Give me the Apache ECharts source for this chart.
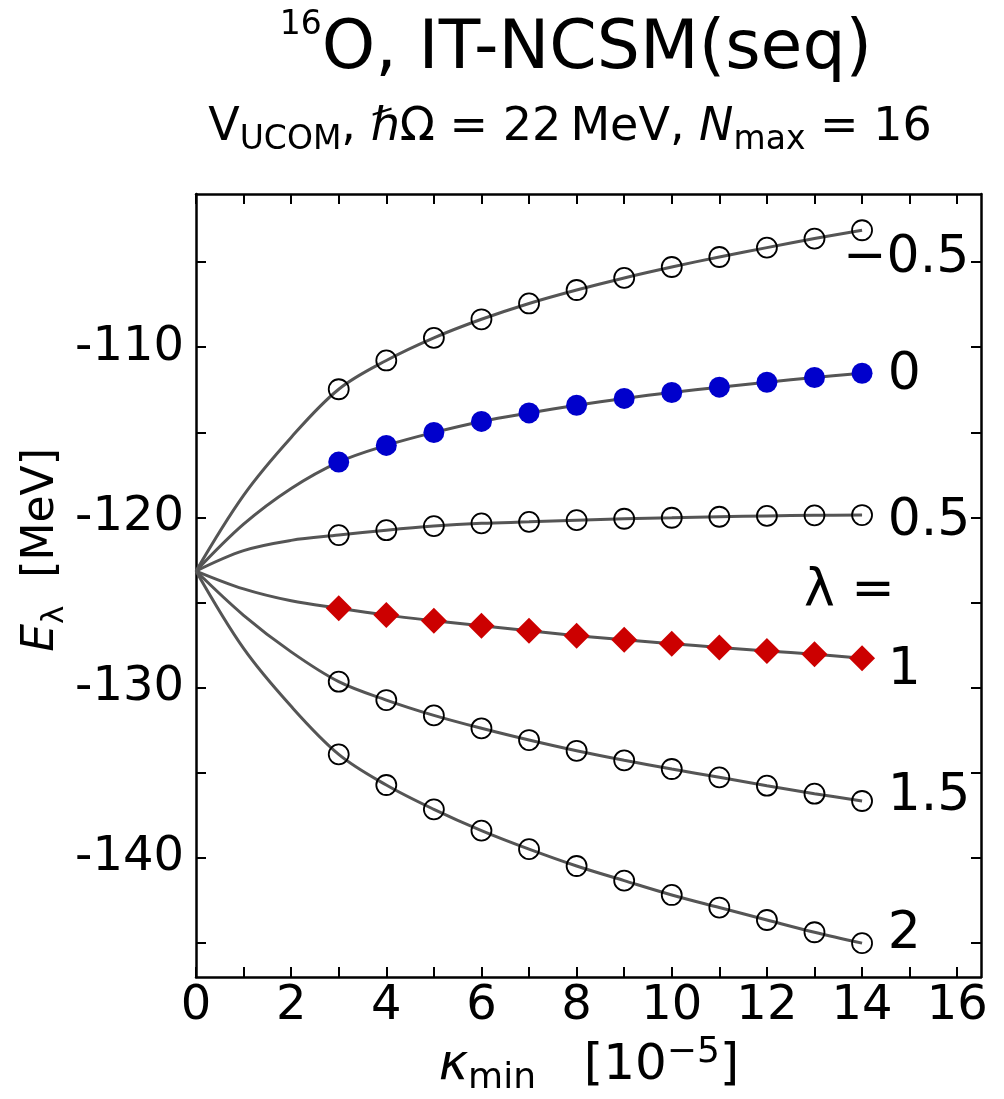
<!DOCTYPE html>
<html>
<head>
<meta charset="utf-8">
<script src="https://cdn.jsdelivr.net/npm/echarts@6/dist/echarts.min.js"></script>
<style>
  html, body { margin: 0; padding: 0; background: #ffffff; }
  #chart { width: 1004px; height: 1099px; }
</style>
</head>
<body>
<div id="chart"></div>
<script>
// kappa_min values (units of 1e-5) of the computed points
const kappa = [3, 4, 5, 6, 7, 8, 9, 10, 11, 12, 13, 14];

// E_lambda [MeV] for each lambda
const eLamM05 = [-112.47, -110.78, -109.45, -108.36, -107.43, -106.64, -105.93, -105.29, -104.70, -104.15, -103.62, -103.13];
const eLam0   = [-116.75, -115.77, -115.01, -114.36, -113.86, -113.41, -113.01, -112.66, -112.35, -112.06, -111.78, -111.53];
const eLam05  = [-121.04, -120.75, -120.51, -120.35, -120.26, -120.16, -120.08, -120.02, -119.96, -119.91, -119.88, -119.86];
const eLam1   = [-125.34, -125.74, -126.07, -126.37, -126.66, -126.95, -127.19, -127.42, -127.64, -127.85, -128.04, -128.28];
const eLam15  = [-129.65, -130.73, -131.63, -132.39, -133.08, -133.71, -134.27, -134.78, -135.27, -135.76, -136.23, -136.66];
const eLam2   = [-133.92, -135.72, -137.15, -138.40, -139.49, -140.48, -141.34, -142.18, -142.92, -143.65, -144.37, -145.01];

// extrapolation curves toward kappa_min -> 0
const fitKappa = [0, 1, 2];
const fitM05 = [-123.15, -118.7, -115.3];
const fit0   = [-123.15, -120.4, -118.3];
const fit05  = [-123.15, -121.95, -121.35];
const fit1   = [-123.15, -124.2, -124.9];
const fit15  = [-123.15, -125.75, -127.9];
const fit2   = [-123.15, -127.7, -131.1];

// lambda labels at the right of the curves
const labelText   = ['\u22120.5', '0', '0.5', '\u03bb =', '1', '1.5', '2'];
const labelKappa  = [13.6, 14.54, 14.54, 12.78, 14.54, 14.54, 14.54];
const labelEnergy = [-104.77, -111.64, -120.22, -124.33, -128.97, -136.37, -144.53];

// axis ticks
const xTicks  = [0, 1, 2, 3, 4, 5, 6, 7, 8, 9, 10, 11, 12, 13, 14, 15, 16];
const xLabels = [0, 2, 4, 6, 8, 10, 12, 14, 16];
const yTicks  = [-145, -140, -135, -130, -125, -120, -115, -110, -105];
const yLabels = [-140, -130, -120, -110];

const FONT = 'DejaVu Sans';
const pairs = (xs, ys) => xs.map((x, i) => [x, ys[i]]);
const curve = (head, pts) => pairs(fitKappa.concat(kappa), head.concat(pts));

const axisLineStyle = { color: '#000', width: 2.5 };
const tickStyle = { show: true, inside: true, length: 10, lineStyle: { color: '#000', width: 2 } };

function xAxis(pos, showLabels) {
  return {
    type: 'value', position: pos, min: 0, max: 16.5,
    axisLine: { show: true, onZero: false, lineStyle: axisLineStyle },
    axisTick: Object.assign({ customValues: xTicks }, tickStyle),
    axisLabel: { show: showLabels, customValues: xLabels, fontSize: 48, fontFamily: FONT, color: '#000', margin: 6 },
    splitLine: { show: false }
  };
}
function yAxis(pos, showLabels) {
  return {
    type: 'value', position: pos, min: -147, max: -101,
    axisLine: { show: true, onZero: false, lineStyle: axisLineStyle },
    axisTick: Object.assign({ customValues: yTicks }, tickStyle),
    axisLabel: { show: showLabels, customValues: yLabels, fontSize: 48, fontFamily: FONT, color: '#000', margin: 12 },
    splitLine: { show: false }
  };
}

function fitLine(head, pts) {
  return {
    type: 'line', data: curve(head, pts), smooth: 0.35, showSymbol: false, silent: true,
    lineStyle: { color: '#555555', width: 3 }, z: 2
  };
}
function openPoints(pts) {
  return {
    type: 'scatter', data: pairs(kappa, pts), symbol: 'circle', symbolSize: 20, silent: true,
    itemStyle: { color: 'rgba(0,0,0,0)', borderColor: '#000', borderWidth: 1.8, opacity: 1 }, z: 3
  };
}

const chart = echarts.init(document.getElementById('chart'), null, { renderer: 'canvas' });

chart.setOption({
  backgroundColor: '#ffffff',
  animation: false,
  grid: { left: 196, right: 23, top: 194, bottom: 122, containLabel: false },
  xAxis: [xAxis('bottom', true), xAxis('top', false)],
  yAxis: [yAxis('left', true), yAxis('right', false)],
  series: [
    fitLine(fitM05, eLamM05),
    fitLine(fit0, eLam0),
    fitLine(fit05, eLam05),
    fitLine(fit1, eLam1),
    fitLine(fit15, eLam15),
    fitLine(fit2, eLam2),
    openPoints(eLamM05),
    {
      type: 'scatter', data: pairs(kappa, eLam0), symbol: 'circle', symbolSize: 21, silent: true,
      itemStyle: { color: '#0000cc', opacity: 1 }, z: 3
    },
    openPoints(eLam05),
    {
      type: 'scatter', data: pairs(kappa, eLam1), symbol: 'diamond', symbolSize: 26, silent: true,
      itemStyle: { color: '#cc0000', opacity: 1 }, z: 3
    },
    openPoints(eLam15),
    openPoints(eLam2),
    {
      type: 'scatter', silent: true, symbolSize: 0.01, z: 4,
      itemStyle: { color: 'rgba(0,0,0,0)', opacity: 1 },
      data: labelText.map((t, i) => ({ name: t, value: [labelKappa[i], labelEnergy[i]] })),
      label: {
        show: true, position: 'right', distance: 0, formatter: p => p.name,
        fontSize: 52, fontFamily: FONT, color: '#000', opacity: 1
      }
    }
  ],
  graphic: [
    {
      type: 'text', x: 576, y: 50, silent: true,
      style: {
        text: '{sup|16}{big|O, IT-NCSM(seq)}',
        textAlign: 'center', textVerticalAlign: 'middle',
        rich: {
          big: { fontSize: 68, fontFamily: FONT, fill: '#000', lineHeight: 82 },
          sup: { fontSize: 33, fontFamily: FONT, fill: '#000', lineHeight: 48, verticalAlign: 'top' }
        }
      }
    },
    {
      type: 'text', x: 570, y: 128, silent: true,
      style: {
        text: '{n|V}{sub|UCOM}{n|, }{i|\u210f}{n|\u03a9 = 22\u2009MeV, }{i|N}{sub|max}{n| = 16}',
        textAlign: 'center', textVerticalAlign: 'middle',
        rich: {
          n: { fontSize: 46, fontFamily: FONT, fill: '#000', lineHeight: 58 },
          i: { fontSize: 46, fontFamily: FONT, fontStyle: 'italic', fill: '#000', lineHeight: 58 },
          sub: { fontSize: 33, fontFamily: FONT, fill: '#000', lineHeight: 38, verticalAlign: 'bottom' }
        }
      }
    },
    {
      type: 'text', x: 589, y: 1066, silent: true,
      style: {
        text: '{i|\u03ba}{sub|min}{n|   [10}{sup|\u22125}{n|]}',
        textAlign: 'center', textVerticalAlign: 'middle',
        rich: {
          n: { fontSize: 50, fontFamily: FONT, fill: '#000', lineHeight: 62 },
          i: { fontSize: 50, fontFamily: FONT, fontStyle: 'italic', fill: '#000', lineHeight: 62 },
          sub: { fontSize: 36, fontFamily: FONT, fill: '#000', lineHeight: 40, verticalAlign: 'bottom' },
          sup: { fontSize: 36, fontFamily: FONT, fill: '#000', lineHeight: 40, verticalAlign: 'top' }
        }
      }
    },
    {
      type: 'text', x: 42, y: 550, rotation: Math.PI / 2, silent: true,
      style: {
        text: '{i|E}{sub|\u03bb}{n|  [MeV]}',
        textAlign: 'center', textVerticalAlign: 'middle',
        rich: {
          n: { fontSize: 44, fontFamily: FONT, fill: '#000', lineHeight: 56 },
          i: { fontSize: 44, fontFamily: FONT, fontStyle: 'italic', fill: '#000', lineHeight: 56 },
          sub: { fontSize: 31, fontFamily: FONT, fill: '#000', lineHeight: 35, verticalAlign: 'bottom' }
        }
      }
    }
  ]
});
</script>
</body>
</html>
